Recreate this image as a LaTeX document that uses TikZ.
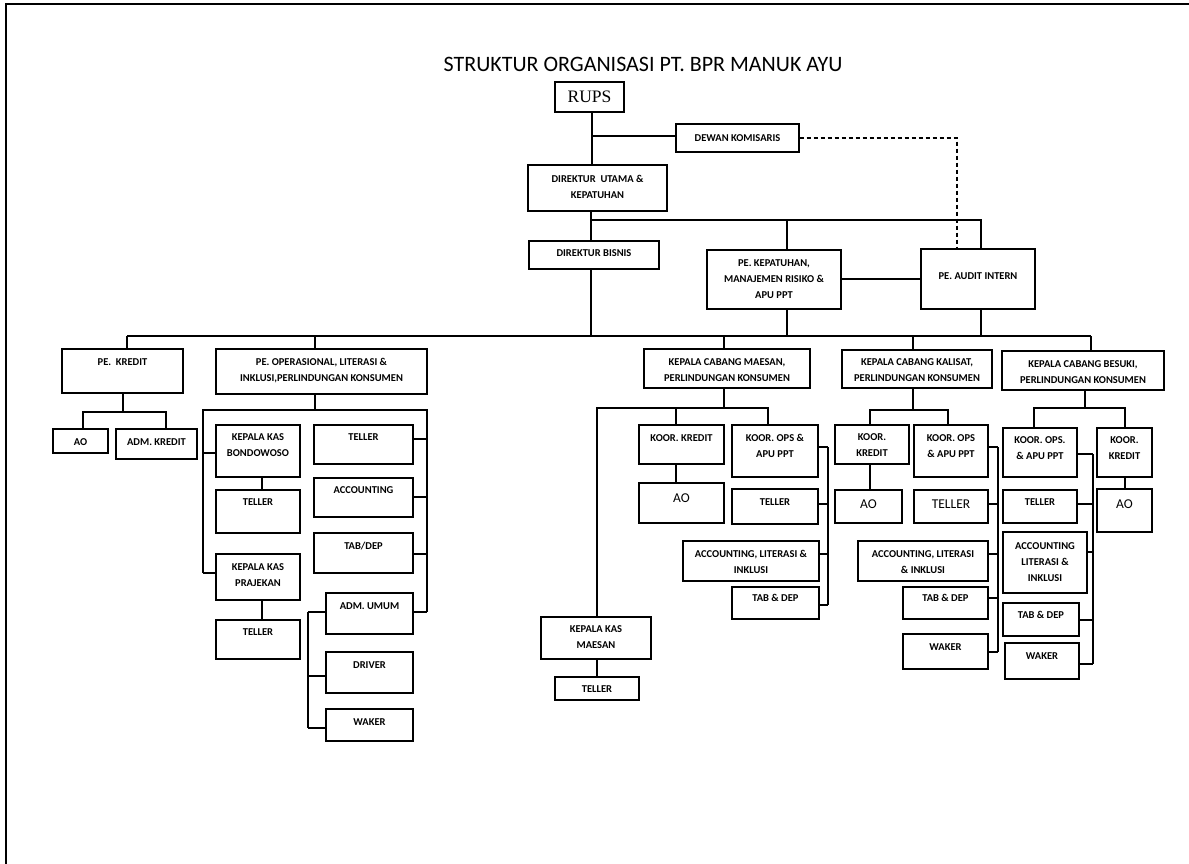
\documentclass[tikz,border=0pt]{standalone}
\usepackage{fontspec}
\setmainfont{Carlito}
\newfontfamily\serifrups{Liberation Serif}
\newcommand\bx[8][]{%
  \node[box, minimum width={(#5-#3)*1pt}, minimum height={(#6-#4)*1pt}] (#2) at ({(#3+#5)/2},{(#4+#6)/2}) {};
  \node[txt,#1] (#2t) at ({(#3+#5)/2},#7) {#8};}
\newcommand\brR[3]{\draw[ln] (#1.east |- 0,#3) -- (#2 |- 0,#3);}
\newcommand\brL[3]{\draw[ln] (#1.west |- 0,#3) -- (#2 |- 0,#3);}
\begin{document}
\begin{tikzpicture}[x=1pt,y=-1pt,
  box/.style={draw, line width=1.3pt, rectangle, inner sep=0pt},
  txt/.style={font=\fontsize{10.5}{16}\selectfont\bfseries, align=center, inner sep=0pt},
  big/.style={font=\fontsize{13.5}{16}\selectfont},
  ln/.style={line width=1.3pt},
  dsh/.style={line width=1.3pt, dash pattern=on 4.5pt off 2.5pt}]
\useasboundingbox (0,0) rectangle (1189,864);
% frame
\draw[line width=2pt] (6,864) -- (6,4) -- (1189,4);
% title
\node[inner sep=0pt, anchor=base, font=\fontsize{22}{26}\selectfont] (title) at (643,72) {STRUKTUR ORGANISASI PT. BPR MANUK AYU};
% top level
\bx[font=\fontsize{17.5}{20}\selectfont\serifrups]{rups}{555}{82}{624}{112}{97}{RUPS}
\bx{dewan}{676}{124}{799}{152}{138}{DEWAN KOMISARIS}
\bx{dirut}{528}{165}{667}{211}{187}{DIREKTUR\ \ UTAMA \&\\KEPATUHAN}
\bx{dirbis}{529}{241}{659}{269}{253}{DIREKTUR BISNIS}
\bx{pekep}{707}{250}{841}{309}{279}{PE. KEPATUHAN,\\MANAJEMEN RISIKO \&\\APU PPT}
\bx{audit}{921}{249}{1035}{309}{276}{PE. AUDIT INTERN}
% second level
\bx{pekredit}{62}{349}{183}{393}{362}{PE.\ \ KREDIT}
\bx{peops}{216}{349}{427}{394}{370.5}{PE. OPERASIONAL, LITERASI \&\\INKLUSI,PERLINDUNGAN KONSUMEN}
\bx{kcm}{644}{349}{810}{388}{370}{KEPALA CABANG MAESAN,\\PERLINDUNGAN KONSUMEN}
\bx{kck}{842}{350}{992}{388}{370}{KEPALA CABANG KALISAT,\\PERLINDUNGAN KONSUMEN}
\bx{kcb}{1002}{351}{1164}{390}{372}{KEPALA CABANG BESUKI,\\PERLINDUNGAN KONSUMEN}
% PE kredit children
\bx{aoa}{53}{429}{108}{453}{442}{AO}
\bx{admk}{116}{429}{197}{459}{442}{ADM. KREDIT}
% PE ops children
\bx{kkb}{216}{425}{300}{477}{445}{KEPALA KAS\\BONDOWOSO}
\bx{tela}{216}{490}{300}{533}{502}{TELLER}
\bx{kkp}{216}{554}{300}{600}{575}{KEPALA KAS\\PRAJEKAN}
\bx{telb}{216}{620}{300}{659}{632}{TELLER}
\bx{telc}{314}{425}{413}{464}{437}{TELLER}
\bx{acca}{314}{478}{413}{517}{490}{ACCOUNTING}
\bx{taba}{314}{533}{413}{573}{546}{TAB/DEP}
\bx{admu}{326}{593}{413}{634}{606}{ADM. UMUM}
\bx{drv}{326}{652}{413}{693}{665}{DRIVER}
\bx{waka}{326}{709}{413}{741}{722}{WAKER}
% Maesan
\bx{kkm2}{639}{425}{724}{464}{438}{KOOR. KREDIT}
\bx[big]{aob}{639}{483}{724}{523}{498}{AO}
\bx{kom}{732}{425}{818}{477}{445.5}{KOOR. OPS \&\\APU PPT}
\bx{teld}{732}{489}{818}{524}{502}{TELLER}
\bx{accb}{683}{541}{819}{581}{562}{ACCOUNTING, LITERASI \&\\INKLUSI}
\bx{tabb}{732}{587}{819}{619}{598}{TAB \& DEP}
\bx{kkms}{541}{617}{651}{659}{637}{KEPALA KAS\\MAESAN}
\bx{tele}{555}{677}{639}{700}{689}{TELLER}
% Kalisat
\bx{kkk}{835}{425}{909}{464}{445.5}{KOOR.\\KREDIT}
\bx[big]{aoc}{835}{490}{902}{523}{504}{AO}
\bx{kok}{914}{425}{988}{477}{446}{KOOR. OPS\\\& APU PPT}
\bx[big]{telf}{914}{490}{988}{523}{504}{TELLER}
\bx{accc}{858}{541}{988}{581}{562}{ACCOUNTING, LITERASI\\\& INKLUSI}
\bx{tabc}{903}{587}{988}{619}{598}{TAB \& DEP}
\bx{wakb}{903}{634}{988}{669}{647}{WAKER}
% Besuki
\bx{kob}{1003}{428}{1077}{477}{448}{KOOR. OPS.\\\& APU PPT}
\bx{kkbs}{1097}{428}{1152}{477}{448}{KOOR.\\KREDIT}
\bx[big]{aod}{1097}{489}{1152}{532}{504}{AO}
\bx{telg}{1003}{490}{1077}{523}{502}{TELLER}
\bx{accd}{1003}{532}{1087}{593}{562}{ACCOUNTING\\LITERASI \&\\INKLUSI}
\bx{tabd}{1003}{603}{1079}{636}{615}{TAB \& DEP}
\bx{wakc}{1005}{643}{1079}{679}{656}{WAKER}

% ---- connectors, top
\coordinate (a1) at (592,136);
\draw[ln] (a1 |- rups.south) -- (a1 |- dirut.north);
\draw[ln] (a1) -- (a1 -| dewan.west);
\coordinate (d1) at (957,138);
\draw[dsh] (dewan.east) -- (d1) -- (d1 |- audit.north);
\coordinate (b1) at (591,220);
\coordinate (b2) at (787,220);
\coordinate (b3) at (981,220);
\draw[ln] (b1 |- dirut.south) -- (b1 |- dirbis.north);
\draw[ln] (b1) -- (b3) -- (b3 |- audit.north);
\draw[ln] (b2) -- (b2 |- pekep.north);
\draw[ln] (pekep.east |- 0,279) -- (audit.west |- 0,279);
% main bus
\coordinate (k1) at (127,336);
\coordinate (k2) at (315,336);
\coordinate (k3) at (724,336);
\coordinate (k4) at (913,336);
\coordinate (k5) at (1091,336);
\draw[ln] (k1) -- (k5);
\draw[ln] (b1 |- dirbis.south) -- (b1 |- k1);
\draw[ln] (b2 |- pekep.south) -- (b2 |- k1);
\draw[ln] (b3 |- audit.south) -- (b3 |- k1);
\draw[ln] (k1) -- (k1 |- pekredit.north);
\draw[ln] (k2) -- (k2 |- peops.north);
\draw[ln] (k3) -- (k3 |- kcm.north);
\draw[ln] (k4) -- (k4 |- kck.north);
\draw[ln] (k5) -- (k5 |- kcb.north);
% PE kredit
\coordinate (p1) at (123,412);
\coordinate (p1l) at (83,412);
\coordinate (p1r) at (166,412);
\draw[ln] (p1 |- pekredit.south) -- (p1);
\draw[ln] (p1l |- aoa.north) -- (p1l) -- (p1r) -- (p1r |- admk.north);
% PE ops
\coordinate (o1) at (315,410);
\coordinate (ol) at (203,410);
\coordinate (or) at (427,410);
\draw[ln] (o1 |- peops.south) -- (o1);
\draw[ln] (ol |- 0,573) -- (ol) -- (or) -- (or |- 0,612);
\brL{kkb}{ol}{453}
\brL{kkp}{ol}{573}
\draw[ln] (262,0 |- kkb.south) -- (262,0 |- tela.north);
\draw[ln] (262,0 |- kkp.south) -- (262,0 |- telb.north);
\brR{telc}{or}{439}
\brR{acca}{or}{497}
\brR{taba}{or}{554}
\brR{admu}{or}{612}
\coordinate (ul) at (308,612);
\draw[ln] (ul) -- (ul |- 0,728);
\brL{admu}{ul}{612}
\brL{drv}{ul}{676}
\brL{waka}{ul}{728}
% Maesan
\coordinate (m1) at (724,408);
\coordinate (ml) at (597,408);
\coordinate (mc) at (676,408);
\coordinate (mr) at (768,408);
\draw[ln] (m1 |- kcm.south) -- (m1);
\draw[ln] (ml |- kkms.north) -- (ml) -- (mr) -- (mr |- kom.north);
\draw[ln] (mc) -- (mc |- kkm2.north);
\draw[ln] (mc |- kkm2.south) -- (mc |- aob.north);
\draw[ln] (ml |- kkms.south) -- (ml |- tele.north);
\coordinate (mv) at (828,447);
\draw[ln] (mv) -- (mv |- 0,605);
\brR{kom}{mv}{447}
\brR{teld}{mv}{504}
\brR{accb}{mv}{554}
\brR{tabb}{mv}{605}
% Kalisat
\coordinate (q1) at (913,410);
\coordinate (ql) at (870,410);
\coordinate (qr) at (948,410);
\draw[ln] (q1 |- kck.south) -- (q1);
\draw[ln] (ql |- kkk.north) -- (ql) -- (qr) -- (qr |- kok.north);
\draw[ln] (ql |- kkk.south) -- (ql |- aoc.north);
\coordinate (qv) at (998,447);
\draw[ln] (qv) -- (qv |- 0,652);
\brR{kok}{qv}{447}
\brR{telf}{qv}{504}
\brR{accc}{qv}{554}
\brR{tabc}{qv}{598}
\brR{wakb}{qv}{652}
% Besuki
\coordinate (s1) at (1085,408);
\coordinate (sl) at (1034,408);
\coordinate (sr) at (1125,408);
\draw[ln] (s1 |- kcb.south) -- (s1);
\draw[ln] (sl |- kob.north) -- (sl) -- (sr) -- (sr |- kkbs.north);
\draw[ln] (sr |- kkbs.south) -- (sr |- aod.north);
\coordinate (sv) at (1093,454);
\draw[ln] (sv) -- (sv |- 0,664);
\brR{kob}{sv}{454}
\brR{telg}{sv}{504}
\brR{accd}{sv}{552}
\brR{tabd}{sv}{620}
\brR{wakc}{sv}{664}
\end{tikzpicture}
\end{document}
